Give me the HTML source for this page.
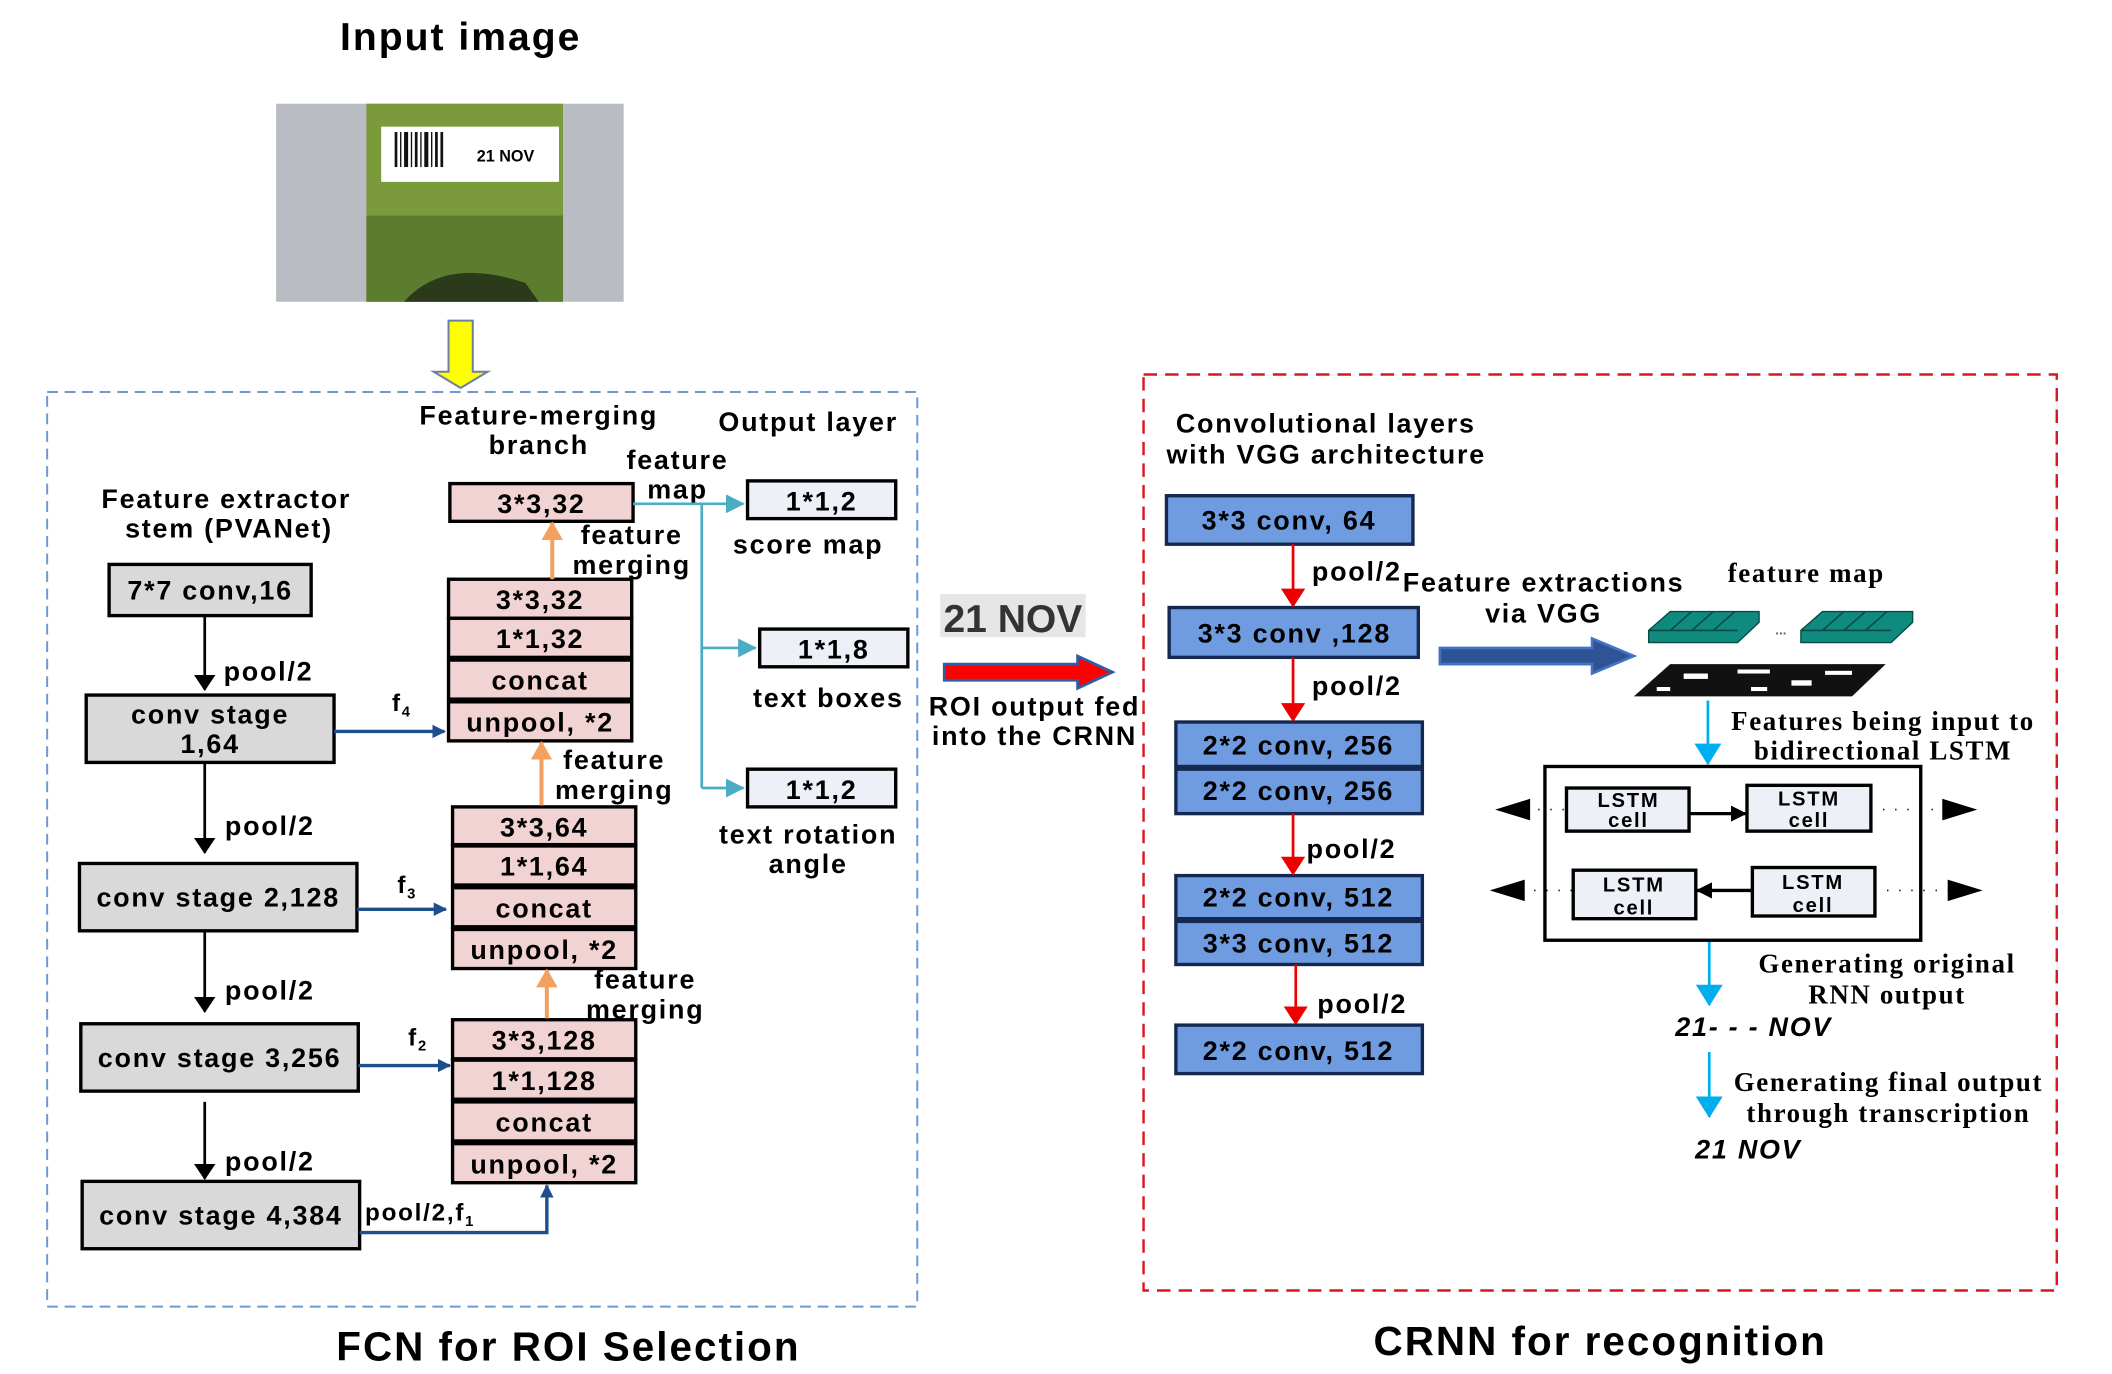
<!DOCTYPE html>
<html><head><meta charset="utf-8"><style>
html,body{margin:0;padding:0;background:#fff;}
svg{display:block;}
text{font-family:"Liberation Sans",sans-serif;font-weight:bold;fill:#000;letter-spacing:1.3px;}
.s{font-family:"Liberation Serif",serif;letter-spacing:1.2px;}
</style></head><body>
<svg width="2112" height="1374" viewBox="0 0 1568 1020" preserveAspectRatio="none" xmlns="http://www.w3.org/2000/svg">
<defs>
<marker id="mb" markerWidth="10" markerHeight="10" refX="9" refY="5" orient="auto" markerUnits="userSpaceOnUse"><path d="M0,0 L10,5 L0,10z" fill="#1f4e8c"/></marker>
<marker id="mo" markerWidth="14" markerHeight="16" refX="13" refY="8" orient="auto" markerUnits="userSpaceOnUse"><path d="M0,0 L14,8 L0,16z" fill="#f4a060"/></marker>
<marker id="ml" markerWidth="14" markerHeight="14" refX="13" refY="7" orient="auto" markerUnits="userSpaceOnUse"><path d="M0,0 L14,7 L0,14z" fill="#4bacc6"/></marker>
<marker id="mk" markerWidth="12" markerHeight="16" refX="11" refY="8" orient="auto" markerUnits="userSpaceOnUse"><path d="M0,0 L12,8 L0,16z" fill="#000"/></marker>
<marker id="mr" markerWidth="14" markerHeight="18" refX="13" refY="9" orient="auto" markerUnits="userSpaceOnUse"><path d="M0,0 L14,9 L0,18z" fill="#e00"/></marker>
<marker id="mc" markerWidth="16" markerHeight="20" refX="15" refY="10" orient="auto" markerUnits="userSpaceOnUse"><path d="M0,0 L16,10 L0,20z" fill="#00aeef"/></marker>
<marker id="mx" markerWidth="12" markerHeight="12" refX="11" refY="6" orient="auto" markerUnits="userSpaceOnUse"><path d="M0,0 L12,6 L0,12z" fill="#000"/></marker>
</defs>

<text x="342" y="37" font-size="29" style="letter-spacing:1.5px" text-anchor="middle">Input image</text>
<!-- photo -->
<rect x="205" y="77" width="258" height="147" fill="#b9bcc3"/>
<rect x="272" y="77" width="146" height="147" fill="#7a9a3c"/>
<rect x="272" y="160" width="146" height="64" fill="#5d7d2e"/>
<rect x="283" y="94" width="132" height="41" fill="#fff"/>
<g fill="#111"><rect x="293" y="98" width="2" height="26"/><rect x="297" y="98" width="1" height="26"/><rect x="300" y="98" width="3" height="26"/><rect x="305" y="98" width="1" height="26"/><rect x="308" y="98" width="2" height="26"/><rect x="312" y="98" width="1" height="26"/><rect x="315" y="98" width="3" height="26"/><rect x="320" y="98" width="1" height="26"/><rect x="323" y="98" width="2" height="26"/><rect x="327" y="98" width="2" height="26"/></g>
<text x="354" y="120" font-size="12" style="letter-spacing:0">21 NOV</text>
<path d="M300,224 Q330,190 390,210 L400,224z" fill="#2c3a1c"/>
<!-- yellow arrow -->
<path d="M333,238 H351 V276 H362 L342,288 L322,276 H333z" fill="#ffff00" stroke="#6a7fa8" stroke-width="1.5"/>

<!-- dashed boxes -->
<rect x="35" y="291" width="646" height="679" fill="none" stroke="#6c9bd2" stroke-width="1.5" stroke-dasharray="8,5"/>
<rect x="849" y="278" width="678" height="680" fill="none" stroke="#d9171e" stroke-width="1.8" stroke-dasharray="10,6"/>

<!-- left stem -->
<text x="168" y="377" font-size="20" text-anchor="middle">Feature extractor</text>
<text x="170" y="399" font-size="20" text-anchor="middle">stem (PVANet)</text>
<g fill="#d9d9d9" stroke="#000" stroke-width="2.5">
<rect x="81" y="419" width="150" height="38"/>
<rect x="64" y="516" width="184" height="50"/>
<rect x="59" y="641" width="206" height="50"/>
<rect x="60" y="760" width="206" height="50"/>
<rect x="61" y="877" width="206" height="50"/>
</g>
<g font-size="20" text-anchor="middle">
<text x="156" y="445">7*7 conv,16</text>
<text x="156" y="537">conv stage</text>
<text x="156" y="559">1,64</text>
<text x="162" y="673">conv stage 2,128</text>
<text x="163" y="792">conv stage 3,256</text>
<text x="164" y="909">conv stage 4,384</text>
</g>
<g stroke="#000" stroke-width="2" marker-end="url(#mk)">
<line x1="152" y1="457" x2="152" y2="512"/>
<line x1="152" y1="566" x2="152" y2="633"/>
<line x1="152" y1="691" x2="152" y2="751"/>
<line x1="152" y1="818" x2="152" y2="875"/>
</g>
<g font-size="20"><text x="166" y="505">pool/2</text><text x="167" y="620">pool/2</text><text x="167" y="742">pool/2</text><text x="167" y="869">pool/2</text></g>

<!-- f connectors -->
<g stroke="#1f4e8c" stroke-width="2.5" fill="none" marker-end="url(#mb)">
<line x1="248" y1="543" x2="330" y2="543"/>
<line x1="265" y1="675" x2="331" y2="675"/>
<line x1="266" y1="791" x2="334" y2="791"/>
<polyline points="267,915 406,915 406,880"/>
</g>
<g font-size="18"><text x="291" y="528">f<tspan font-size="11" dy="4">4</tspan></text><text x="295" y="663">f<tspan font-size="11" dy="4">3</tspan></text><text x="303" y="776">f<tspan font-size="11" dy="4">2</tspan></text><text x="271" y="906">pool/2,f<tspan font-size="11" dy="4">1</tspan></text></g>

<!-- merging branch -->
<text x="400" y="315" font-size="20" text-anchor="middle">Feature-merging</text>
<text x="400" y="337" font-size="20" text-anchor="middle">branch</text>
<text x="600" y="320" font-size="20" text-anchor="middle">Output layer</text>
<text x="503" y="348" font-size="20" text-anchor="middle">feature</text>
<text x="503" y="370" font-size="20" text-anchor="middle">map</text>
<g fill="#f2d3d3" stroke="#000" stroke-width="2.5">
<rect x="334" y="359" width="136" height="28"/>
<rect x="333" y="430" width="136" height="29"/><rect x="333" y="459" width="136" height="29"/><rect x="333" y="490" width="136" height="29"/><rect x="333" y="521" width="136" height="29"/>
<rect x="336" y="599" width="136" height="28"/><rect x="336" y="628" width="136" height="29"/><rect x="336" y="659" width="136" height="29"/><rect x="336" y="690" width="136" height="29"/>
<rect x="336" y="757" width="136" height="29"/><rect x="336" y="787" width="136" height="29"/><rect x="336" y="818" width="136" height="29"/><rect x="336" y="849" width="136" height="29"/>
</g>
<g font-size="20" text-anchor="middle">
<text x="402" y="381">3*3,32</text>
<text x="401" y="452">3*3,32</text><text x="401" y="481">1*1,32</text><text x="401" y="512">concat</text><text x="401" y="543">unpool, *2</text>
<text x="404" y="621">3*3,64</text><text x="404" y="650">1*1,64</text><text x="404" y="681">concat</text><text x="404" y="712">unpool, *2</text>
<text x="404" y="779">3*3,128</text><text x="404" y="809">1*1,128</text><text x="404" y="840">concat</text><text x="404" y="871">unpool, *2</text>
</g>
<g stroke="#f4a060" stroke-width="3" marker-end="url(#mo)">
<line x1="410" y1="430" x2="410" y2="388"/>
<line x1="402" y1="598" x2="402" y2="551"/>
<line x1="406" y1="756" x2="406" y2="720"/>
</g>
<g font-size="20" text-anchor="middle">
<text x="469" y="404">feature</text><text x="469" y="426">merging</text>
<text x="456" y="571">feature</text><text x="456" y="593">merging</text>
<text x="479" y="734">feature</text><text x="479" y="756">merging</text>
</g>
<!-- output layer -->
<g stroke="#4bacc6" stroke-width="2" fill="none">
<polyline points="470,374 521,374 521,585"/>
<line x1="521" y1="374" x2="552" y2="374" marker-end="url(#ml)"/>
<line x1="521" y1="481" x2="561" y2="481" marker-end="url(#ml)"/>
<line x1="521" y1="585" x2="552" y2="585" marker-end="url(#ml)"/>
</g>
<g fill="#eef0f7" stroke="#000" stroke-width="2.5">
<rect x="555" y="357" width="110" height="28"/>
<rect x="564" y="467" width="110" height="28"/>
<rect x="555" y="571" width="110" height="28"/>
</g>
<g font-size="20" text-anchor="middle">
<text x="610" y="379">1*1,2</text><text x="619" y="489">1*1,8</text><text x="610" y="593">1*1,2</text>
<text x="600" y="411">score map</text><text x="615" y="525">text boxes</text>
<text x="600" y="626">text rotation</text><text x="600" y="648">angle</text>
</g>

<!-- middle -->
<rect x="698" y="441" width="108" height="32" fill="#e6e6e6"/>
<text x="752" y="469" font-size="29" text-anchor="middle" style="fill:#333;letter-spacing:0">21 NOV</text>
<path d="M701,493 H800 V487 L826,499 L800,511 V505 H701z" fill="#f00" stroke="#2f5ea8" stroke-width="2"/>
<text x="768" y="531" font-size="20" text-anchor="middle">ROI output fed</text>
<text x="768" y="553" font-size="20" text-anchor="middle">into the CRNN</text>

<!-- CRNN -->
<text x="873" y="321" font-size="20">Convolutional layers</text>
<text x="866" y="344" font-size="20">with VGG architecture</text>
<g fill="#6f9be0" stroke="#142850" stroke-width="2.5">
<rect x="866" y="368" width="183" height="36"/>
<rect x="868" y="451" width="185" height="37"/>
<rect x="873" y="536" width="183" height="33"/><rect x="873" y="571" width="183" height="33"/>
<rect x="873" y="650" width="183" height="32"/><rect x="873" y="684" width="183" height="32"/>
<rect x="873" y="761" width="183" height="36"/>
</g>
<g font-size="20" text-anchor="middle">
<text x="957" y="393">3*3 conv, 64</text>
<text x="961" y="477">3*3 conv ,128</text>
<text x="964" y="560">2*2 conv, 256</text><text x="964" y="594">2*2 conv, 256</text>
<text x="964" y="673">2*2 conv, 512</text><text x="964" y="707">3*3 conv, 512</text>
<text x="964" y="787">2*2 conv, 512</text>
</g>
<g stroke="#e00" stroke-width="2" marker-end="url(#mr)">
<line x1="960" y1="404" x2="960" y2="450"/>
<line x1="960" y1="488" x2="960" y2="535"/>
<line x1="960" y1="604" x2="960" y2="649"/>
<line x1="962" y1="716" x2="962" y2="760"/>
</g>
<g font-size="20"><text x="974" y="431">pool/2</text><text x="974" y="516">pool/2</text><text x="970" y="637">pool/2</text><text x="978" y="752">pool/2</text></g>

<text x="1146" y="439" font-size="20" text-anchor="middle">Feature extractions</text>
<text x="1146" y="462" font-size="20" text-anchor="middle">via VGG</text>
<path d="M1069,481 H1182 V474 L1213,487 L1182,500 V493 H1069z" fill="#2f5496" stroke="#4472c4" stroke-width="2"/>
<text x="1341" y="432" font-size="20" class="s" text-anchor="middle">feature map</text>
<g fill="#0f8a7e" stroke="#094a44" stroke-width="1">
<path d="M1224,468 L1240,454 H1306 V462 L1290,477 H1224z"/>
<path d="M1337,468 L1353,454 H1420 V462 L1404,477 H1337z"/>
</g>
<g stroke="#094a44" stroke-width="1.2"><line x1="1240" y1="468" x2="1256" y2="454"/><line x1="1256" y1="468" x2="1272" y2="454"/><line x1="1272" y1="468" x2="1288" y2="454"/><line x1="1353" y1="468" x2="1369" y2="454"/><line x1="1369" y1="468" x2="1385" y2="454"/><line x1="1385" y1="468" x2="1401" y2="454"/><line x1="1224" y1="468" x2="1290" y2="468"/><line x1="1337" y1="468" x2="1404" y2="468"/></g>
<text x="1318" y="471" font-size="10" style="fill:#666;letter-spacing:0">...</text>
<path d="M1213,517 L1240,493 H1400 L1375,517z" fill="#111"/>
<g fill="#fff"><rect x="1250" y="500" width="18" height="4"/><rect x="1290" y="497" width="24" height="3"/><rect x="1330" y="505" width="15" height="4"/><rect x="1230" y="510" width="10" height="3"/><rect x="1355" y="498" width="20" height="3"/><rect x="1300" y="510" width="12" height="3"/></g>

<g stroke="#00aeef" stroke-width="2" marker-end="url(#mc)">
<line x1="1268" y1="520" x2="1268" y2="567"/>
<line x1="1269" y1="699" x2="1269" y2="746"/>
<line x1="1269" y1="781" x2="1269" y2="829"/>
</g>
<g font-size="20" text-anchor="middle">
<text x="1398" y="542" class="s">Features being input to</text>
<text x="1398" y="564" class="s">bidirectional LSTM</text>
<text x="1401" y="722" class="s">Generating original</text>
<text x="1401" y="745" class="s">RNN output</text>
<text x="1402" y="810" class="s">Generating final output</text>
<text x="1402" y="833" class="s">through transcription</text>
</g>
<text x="1302" y="769" font-size="20" font-style="italic" text-anchor="middle">21- - - NOV</text>
<text x="1298" y="860" font-size="20" font-style="italic" text-anchor="middle">21 NOV</text>

<rect x="1147" y="569" width="279" height="129" fill="#fff" stroke="#000" stroke-width="2.5"/>
<g fill="#eef0f7" stroke="#000" stroke-width="2.5">
<rect x="1163" y="585" width="91" height="32"/><rect x="1297" y="583" width="92" height="34"/>
<rect x="1168" y="646" width="91" height="36"/><rect x="1301" y="644" width="91" height="36"/>
</g>
<g font-size="15" text-anchor="middle">
<text x="1209" y="599">LSTM</text><text x="1209" y="614">cell</text>
<text x="1343" y="598">LSTM</text><text x="1343" y="614">cell</text>
<text x="1213" y="662">LSTM</text><text x="1213" y="679">cell</text>
<text x="1346" y="660">LSTM</text><text x="1346" y="677">cell</text>
</g>
<g stroke="#000" stroke-width="2.5">
<line x1="1254" y1="604" x2="1296" y2="604" marker-end="url(#mx)"/>
<line x1="1301" y1="661" x2="1260" y2="661" marker-end="url(#mx)"/>
</g>
<g stroke="#000" stroke-width="1.2" stroke-dasharray="1,8">
<line x1="1133" y1="601" x2="1163" y2="601"/><line x1="1389" y1="601" x2="1444" y2="601"/>
<line x1="1130" y1="661" x2="1168" y2="661"/><line x1="1392" y1="661" x2="1448" y2="661"/>
</g>
<g fill="#000">
<path d="M1110,601 L1136,593 V609z"/><path d="M1468,601 L1442,593 V609z"/>
<path d="M1106,661 L1132,653 V669z"/><path d="M1472,661 L1446,653 V669z"/>
</g>

<text x="422" y="1010" font-size="30" style="letter-spacing:1.5px" text-anchor="middle">FCN for ROI Selection</text>
<text x="1188" y="1006" font-size="30" style="letter-spacing:1.5px" text-anchor="middle">CRNN for recognition</text>
</svg>
</body></html>
